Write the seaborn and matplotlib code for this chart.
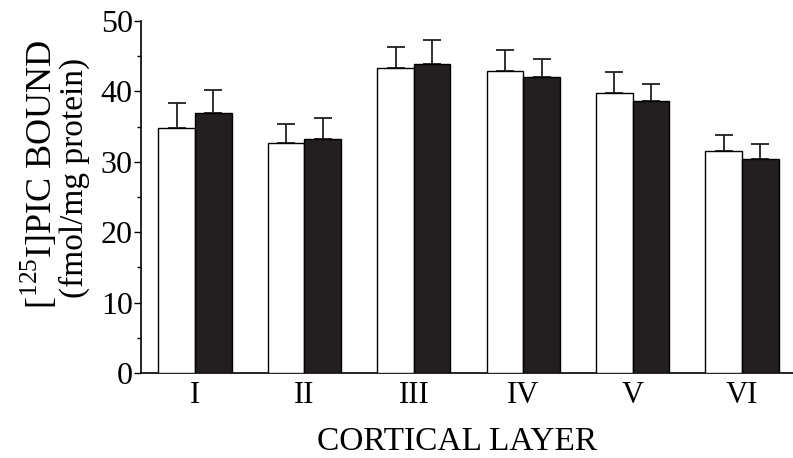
import pandas as pd
import matplotlib
matplotlib.use('Agg')
import matplotlib.pyplot as plt
import seaborn as sns
from matplotlib.ticker import MultipleLocator

#-- Data:

layers = ['I', 'II', 'III', 'IV', 'V', 'VI']
groups = ['open', 'filled']
open_mean = [34.8, 32.6, 43.3, 42.9, 39.8, 31.5]
open_err = [3.5, 2.7, 3.0, 3.0, 2.9, 2.3]
filled_mean = [37.0, 33.2, 43.9, 42.0, 38.7, 30.4]
filled_err = [3.2, 3.0, 3.4, 2.6, 2.4, 2.1]

df = pd.DataFrame({
    'layer': layers * 2,
    'group': [groups[0]] * 6 + [groups[1]] * 6,
    'bound': open_mean + filled_mean,
})
errs = [open_err, filled_err]

#-- Style:

sns.set_style('ticks')
plt.rcParams['font.family'] = ['Liberation Serif', 'DejaVu Serif']
plt.rcParams['mathtext.fontset'] = 'custom'
plt.rcParams['mathtext.rm'] = 'Liberation Serif'
for k in ['text.color', 'axes.labelcolor', 'xtick.color', 'ytick.color', 'axes.edgecolor']:
    plt.rcParams[k] = 'black'

fig = plt.figure(figsize=(7.93, 4.58), dpi=100)
ax = fig.add_axes([141 / 793, 85 / 458, 652 / 793, 352 / 458])

sns.barplot(data=df, x='layer', y='bound', hue='group', order=layers, hue_order=groups,
            palette={'open': 'white', 'filled': '#231f20'}, edgecolor='black', linewidth=1,
            width=0.67, errorbar=None, legend=False, saturation=1, ax=ax, zorder=3)

# upward-only error bars at the bar centres
for cont, err in zip(ax.containers, errs):
    xs = [p.get_x() + p.get_width() / 2 for p in cont]
    ys = [p.get_height() for p in cont]
    ax.errorbar(xs, ys, yerr=[[0] * len(err), err], fmt='none', ecolor='#231f20',
                elinewidth=1.3, capsize=6.8, capthick=1.3, zorder=2)

ax.set_xlim(-0.495, 5.467)
ax.set_ylim(0, 50)
ax.yaxis.set_major_locator(MultipleLocator(10))
ax.yaxis.set_minor_locator(MultipleLocator(5))
ax.tick_params(axis='y', which='major', length=5, width=1, pad=1, labelsize=23, direction='out')
ax.tick_params(axis='y', which='minor', length=3, width=1, direction='out')
ax.tick_params(axis='x', length=0, pad=6, labelsize=22)

for s in ['left', 'bottom']:
    ax.spines[s].set_linewidth(1.2)
sns.despine(ax=ax)

ax.set_xlabel('')
ax.set_ylabel('')

fig.text(457 / 793, 8 / 458, 'CORTICAL LAYER', fontsize=24, ha='center', va='baseline')
fig.text(52 / 793, 1 - 174 / 458, r'[$^{\mathrm{125}}$I]PIC BOUND', rotation=90,
         rotation_mode='anchor', fontsize=26, ha='center', va='baseline')
fig.text(83 / 793, 1 - 178 / 458, '(fmol/mg protein)', rotation=90,
         rotation_mode='anchor', fontsize=24, ha='center', va='baseline')

fig.savefig('out.png', dpi=100)
